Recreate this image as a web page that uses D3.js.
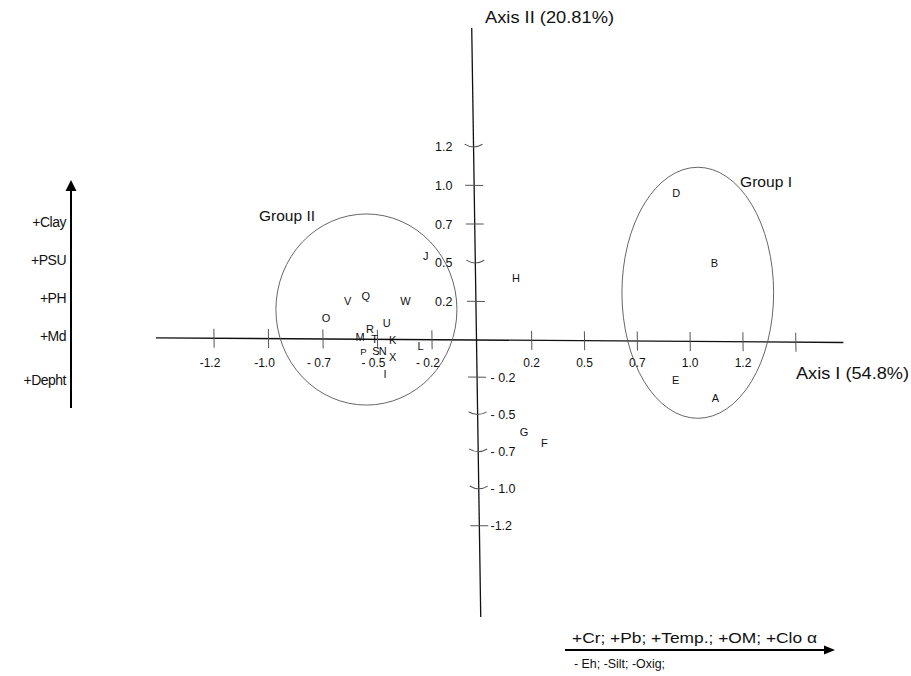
<!DOCTYPE html>
<html>
<head>
<meta charset="utf-8">
<script src="https://cdn.jsdelivr.net/npm/d3@7"></script>
<style>
  body { margin: 0; background: #fff; }
  text { font-family: "Liberation Sans", Arial, sans-serif; fill: #111; }
</style>
</head>
<body>
<div id="chart"></div>
<script>
// sites and their scores on the two axes
const siteNames = ["A","B","D","E","F","G","H","I","J","K","L","M","N","O","P","Q","R","S","T","U","V","W","X"];
const axis1Scores = [1.119, 1.115, 0.934, 0.931, 0.310, 0.215, 0.179, -0.466, -0.279, -0.430, -0.302, -0.580, -0.476, -0.736, -0.565, -0.554, -0.534, -0.507, -0.513, -0.458, -0.637, -0.372, -0.430];
const axis2Scores = [-0.388, 0.500, 0.949, -0.269, -0.691, -0.617, 0.401, -0.231, 0.543, 0.000, -0.040, 0.021, -0.072, 0.140, -0.079, 0.286, 0.071, -0.072, 0.005, 0.108, 0.252, 0.252, -0.116];

const xTickValues = [-1.25, -1, -0.75, -0.5, -0.25, 0.25, 0.5, 0.75, 1, 1.25, 1.5];
const xTickLabels = ["-1.2", "-1.0", "- 0.7", "- 0.5", "- 0.2", "0.2", "0.5", "0.7", "1.0", "1.2", ""];
const yTickValues = [1.25, 1, 0.75, 0.5, 0.25, -0.25, -0.5, -0.75, -1, -1.25];
const yTickLabels = ["1.2", "1.0", "0.7", "0.5", "0.2", "- 0.2", "- 0.5", "- 0.7", "- 1.0", "-1.2"];

const groupNames = ["Group I", "Group II"];
const groupAxis1Range = [[0.677, 1.395], [-0.966, -0.110]];
const groupAxis2Range = [[-0.527, 1.117], [-0.438, 0.815]];

const axisTitles = ["Axis I (54.8%)", "Axis II (20.81%)"];
const leftArrowLabels = ["+Clay", "+PSU", "+PH", "+Md", "+Depht"];
const bottomArrowLabels = ["+Cr; +Pb; +Temp.; +OM; +Clo \u03b1", "- Eh; -Silt; -Oxig;"];

let width = 911;
let height = 676;

let svg = d3.select('#chart').append('svg')
  .attr('width', width)
  .attr('height', height);

// the hand drawn axes are not evenly spaced, so piecewise scales
let x = d3.scaleLinear()
  .domain([-1.25, -0.25, 0, 0.25, 1.25])
  .range([214, 432, 476.5, 531.7, 743]);
let y = d3.scaleLinear()
  .domain([-1.25, 0, 1.25])
  .range([525.7, 340, 146.7]);

let ox = x(0), oy = y(0);
let b = 0.0068, c = 0.0153; // slight tilt of the original axes

let axes = svg.append('g')
  .attr('transform', `matrix(1,${b},${c},1,${-c * oy},${-b * ox})`);

axes.append('line')
  .attr('x1', x(-1.516)).attr('x2', x(1.725))
  .attr('y1', oy).attr('y2', oy)
  .attr('stroke', '#111').attr('stroke-width', 1.3);
axes.append('line')
  .attr('x1', ox).attr('x2', ox)
  .attr('y1', y(2.018)).attr('y2', y(-1.865))
  .attr('stroke', '#111').attr('stroke-width', 1.3);

axes.selectAll('.xtick')
  .data(xTickValues)
  .enter()
  .append('line')
  .attr('class', 'xtick')
  .attr('x1', d => x(d)).attr('x2', d => x(d))
  .attr('y1', oy - 9.5).attr('y2', oy + 9.5)
  .attr('stroke', '#555').attr('stroke-width', 1);

let curvedYTicks = new Set([1.25, 0.5, -0.5, -0.75, -1]);
axes.selectAll('.ytick')
  .data(yTickValues)
  .enter()
  .append('path')
  .attr('class', 'ytick')
  .attr('d', d => curvedYTicks.has(d)
    ? `M${ox - 9},${y(d) - 2.5} Q${ox},${y(d) + 3} ${ox + 9},${y(d) - 2.5}`
    : `M${ox - 9},${y(d)} L${ox + 9},${y(d)}`)
  .attr('fill', 'none')
  .attr('stroke', '#555').attr('stroke-width', 1);

// tick labels
svg.selectAll('.xlab')
  .data(xTickValues)
  .enter()
  .append('text')
  .attr('class', 'xlab')
  .attr('x', d => x(d) + (d < 0 ? -4 : 0))
  .attr('y', 367)
  .attr('text-anchor', 'middle')
  .style('font-size', '12px')
  .text((d, i) => xTickLabels[i]);

svg.selectAll('.ylab')
  .data(yTickValues)
  .enter()
  .append('text')
  .attr('class', 'ylab')
  .attr('x', d => d > 0 ? ox - 24 : ox + 14)
  .attr('y', d => y(d) + 4.5)
  .attr('text-anchor', d => d > 0 ? 'end' : 'start')
  .style('font-size', '12.5px')
  .text((d, i) => yTickLabels[i]);

// group ellipses
svg.selectAll('.group')
  .data(groupNames)
  .enter()
  .append('ellipse')
  .attr('class', 'group')
  .attr('cx', (d, i) => (x(groupAxis1Range[i][0]) + x(groupAxis1Range[i][1])) / 2)
  .attr('cy', (d, i) => (y(groupAxis2Range[i][0]) + y(groupAxis2Range[i][1])) / 2)
  .attr('rx', (d, i) => (x(groupAxis1Range[i][1]) - x(groupAxis1Range[i][0])) / 2)
  .attr('ry', (d, i) => (y(groupAxis2Range[i][0]) - y(groupAxis2Range[i][1])) / 2)
  .attr('fill', 'none')
  .attr('stroke', '#555')
  .attr('stroke-width', 0.9);

svg.append('text')
  .attr('x', 740).attr('y', 187)
  .attr('textLength', 52).attr('lengthAdjust', 'spacingAndGlyphs')
  .style('font-size', '15px')
  .text(groupNames[0]);
svg.append('text')
  .attr('x', 259).attr('y', 221)
  .attr('textLength', 56).attr('lengthAdjust', 'spacingAndGlyphs')
  .style('font-size', '15px')
  .text(groupNames[1]);

// site labels
let smallSites = new Set(["P"]);
svg.selectAll('.site')
  .data(siteNames)
  .enter()
  .append('text')
  .attr('class', 'site')
  .attr('x', (d, i) => x(axis1Scores[i]))
  .attr('y', (d, i) => y(axis2Scores[i]))
  .attr('dy', '0.36em')
  .attr('text-anchor', 'middle')
  .style('font-size', d => smallSites.has(d) ? '9.5px' : '11px')
  .text(d => d);

// axis titles
svg.append('text')
  .attr('x', 796).attr('y', 379)
  .attr('textLength', 113).attr('lengthAdjust', 'spacingAndGlyphs')
  .style('font-size', '17px')
  .text(axisTitles[0]);
svg.append('text')
  .attr('x', 485).attr('y', 23)
  .attr('textLength', 129).attr('lengthAdjust', 'spacingAndGlyphs')
  .style('font-size', '17px')
  .text(axisTitles[1]);

// left arrow with the variables of axis II
svg.append('line')
  .attr('x1', 71).attr('x2', 71)
  .attr('y1', 408).attr('y2', 189)
  .attr('stroke', '#000').attr('stroke-width', 2);
svg.append('path')
  .attr('d', 'M71,180 L76.5,191 L65.5,191 Z')
  .attr('fill', '#000');
svg.selectAll('.leftlab')
  .data(leftArrowLabels)
  .enter()
  .append('text')
  .attr('class', 'leftlab')
  .attr('x', 66)
  .attr('y', (d, i) => 222 + i * 38 + (i === 4 ? 6 : 0) + 5)
  .attr('text-anchor', 'end')
  .style('font-size', '14px')
  .style('letter-spacing', '-0.5px')
  .text(d => d);

// bottom arrow with the variables of axis I
svg.append('line')
  .attr('x1', 565).attr('x2', 826)
  .attr('y1', 650).attr('y2', 650)
  .attr('stroke', '#000').attr('stroke-width', 2);
svg.append('path')
  .attr('d', 'M835,650 L824,645.5 L824,654.5 Z')
  .attr('fill', '#000');
svg.append('text')
  .attr('x', 572).attr('y', 643)
  .attr('textLength', 245).attr('lengthAdjust', 'spacingAndGlyphs')
  .style('font-size', '14.5px')
  .text(bottomArrowLabels[0]);
svg.append('text')
  .attr('x', 574).attr('y', 668)
  .attr('textLength', 91).attr('lengthAdjust', 'spacingAndGlyphs')
  .style('font-size', '13px')
  .text(bottomArrowLabels[1]);
</script>
</body>
</html>
